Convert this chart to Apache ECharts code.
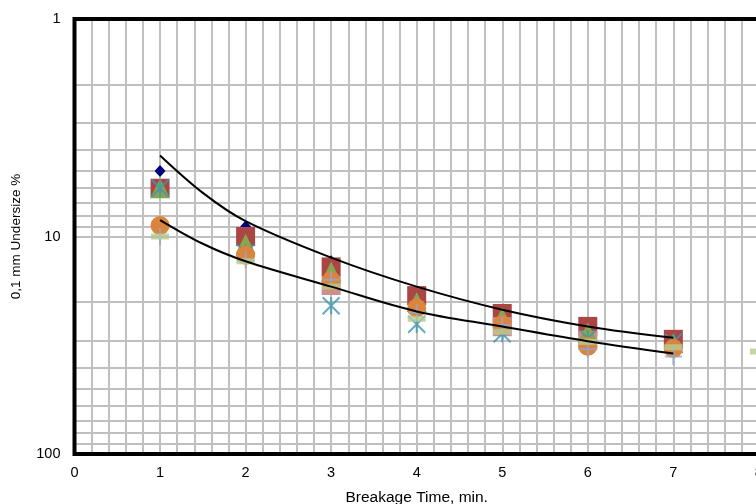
<!DOCTYPE html>
<html><head><meta charset="utf-8">
<script src="https://cdn.jsdelivr.net/npm/echarts@6/dist/echarts.min.js"></script>
<style>html,body{margin:0;padding:0;background:#fff}#c{width:756px;height:504px}</style>
</head><body><div id="c"></div>
<script>
// Data
const times = [1, 2, 3, 4, 5, 6, 7];
const diamondVals  = [5.0, 9.0, 13.0, 18.5, 22.5, 26.0, 29.5];
const squareVals   = [6.0, 10.0, 13.8, 18.7, 22.6, 25.9, 29.7];
const pinkVals     = [null, null, 16.8, null, 26.0, 30.0, null];
const triangleVals = [6.0, 10.8, 14.5, 20.0, 23.6, 27.6, 31.0];
const starVals     = [6.0, 11.9, 20.8, 25.3, 28.0, 29.4, 30.6];
const circleVals   = [8.9, 12.2, 16.0, 21.3, 25.4, 32.0, 32.7];
const plusVals     = [10.0, 12.8, 15.8, 22.4, 25.5, 33.0, 35.6];
const dashTimes    = [1, 2, 3, 4, 5, 6, 7, 8];
const dashVals     = [10.0, 13.0, 17.0, 23.9, 27.4, 30.5, 32.3, 33.8];
// trend curves read along their path
const trendTimes   = [1, 1.5, 2, 3, 4, 5, 6, 7];
const upperTrend   = [4.24, 6.3, 8.5, 12.5, 17.0, 21.7, 25.9, 29.2];
const lowerTrend   = [8.4, 10.8, 13.0, 17.0, 22.1, 25.9, 30.3, 34.5];
const yMinorLines  = [2, 3, 4, 5, 6, 7, 8, 9, 20, 30, 40, 50, 60, 70, 80, 90];

const zip = (xs, ys) => xs.map((x, i) => [x, ys[i]]).filter(p => p[1] != null);
const GRID_COLOR = '#C0C0C0';
const FONT = 'Liberation Sans, Arial, sans-serif';

function markerSeries(name, vals, symbol, size, color, extra) {
  return Object.assign({
    name, type: 'scatter', data: zip(times, vals), symbol, symbolSize: size,
    itemStyle: { color: color, opacity: 1 }, z: 2
  }, extra || {});
}

const chart = echarts.init(document.getElementById('c'), null, { renderer: 'canvas' });
chart.setOption({
  animation: false,
  backgroundColor: '#fff',
  grid: { left: 74.5, top: 19, width: 684.4, height: 435, show: true,
          outerBoundsMode: 'none', containLabel: false,
          borderColor: '#000', borderWidth: 4, backgroundColor: 'transparent', z: 3 },
  xAxis: {
    type: 'value', min: 0, max: 8, interval: 1,
    name: 'Breakage Time, min.', nameLocation: 'middle', nameGap: 36,
    nameTextStyle: { color: '#000', fontSize: 15.5, fontFamily: FONT },
    axisLine: { show: false }, axisTick: { show: false },
    axisLabel: { color: '#000', fontSize: 14.5, fontFamily: FONT, margin: 11, showMaxLabel: true },
    splitLine: { show: true, lineStyle: { color: GRID_COLOR, width: 2 } },
    minorTick: { show: false, splitNumber: 5 },
    minorSplitLine: { show: true, lineStyle: { color: GRID_COLOR, width: 2 } }
  },
  yAxis: {
    type: 'log', logBase: 10, min: 1, max: 100, inverse: true,
    name: '0,1 mm Undersize %', nameLocation: 'middle', nameGap: 51,
    nameTextStyle: { color: '#000', fontSize: 13.5, fontFamily: FONT },
    axisLine: { show: false }, axisTick: { show: false },
    axisLabel: { color: '#000', fontSize: 14.5, fontFamily: FONT, margin: 14 },
    splitLine: { show: true, lineStyle: { color: GRID_COLOR, width: 2 } }
  },
  series: [
    { name: 'gridlines', type: 'line', data: [], silent: true,
      markLine: { silent: true, z: 1, symbol: 'none', animation: false,
        label: { show: false },
        lineStyle: { color: GRID_COLOR, width: 2, type: 'solid' },
        emphasis: { disabled: true },
        data: yMinorLines.map(v => ({ yAxis: v })) } },
    markerSeries('A', diamondVals, 'diamond', [11, 12], '#000080'),
    markerSeries('B', squareVals, 'rect', 19, '#AA4643'),
    markerSeries('C', pinkVals, 'rect', 19, '#CD8E8E'),
    markerSeries('D', triangleVals, 'triangle', 20, '#89A54E'),
    markerSeries('E', starVals, 'path://M0,0L10,10M10,0L0,10M5,0L5,10', 17, 'rgba(0,0,0,0)',
      { itemStyle: { color: 'rgba(0,0,0,0)', borderColor: '#3D96AE', borderWidth: 2 } }),
    markerSeries('F', circleVals, 'circle', 19, '#DB843D'),
    markerSeries('G', plusVals, 'path://M0,5L10,5M5,0L5,10', 17, 'rgba(0,0,0,0)',
      { itemStyle: { color: 'rgba(0,0,0,0)', borderColor: '#92A8CD', borderWidth: 2 } }),
    { name: 'H', type: 'scatter', data: zip(dashTimes, dashVals), symbol: 'rect',
      symbolSize: [18, 6], itemStyle: { color: '#B5CA92' }, z: 2 },
    { name: 'upper', type: 'line', data: zip(trendTimes, upperTrend), smooth: 0.35,
      symbol: 'none', lineStyle: { color: '#000', width: 2 }, z: 5 },
    { name: 'lower', type: 'line', data: zip(trendTimes, lowerTrend), smooth: 0.35,
      symbol: 'none', lineStyle: { color: '#000', width: 2 }, z: 5 }
  ]
});
</script>
</body></html>
